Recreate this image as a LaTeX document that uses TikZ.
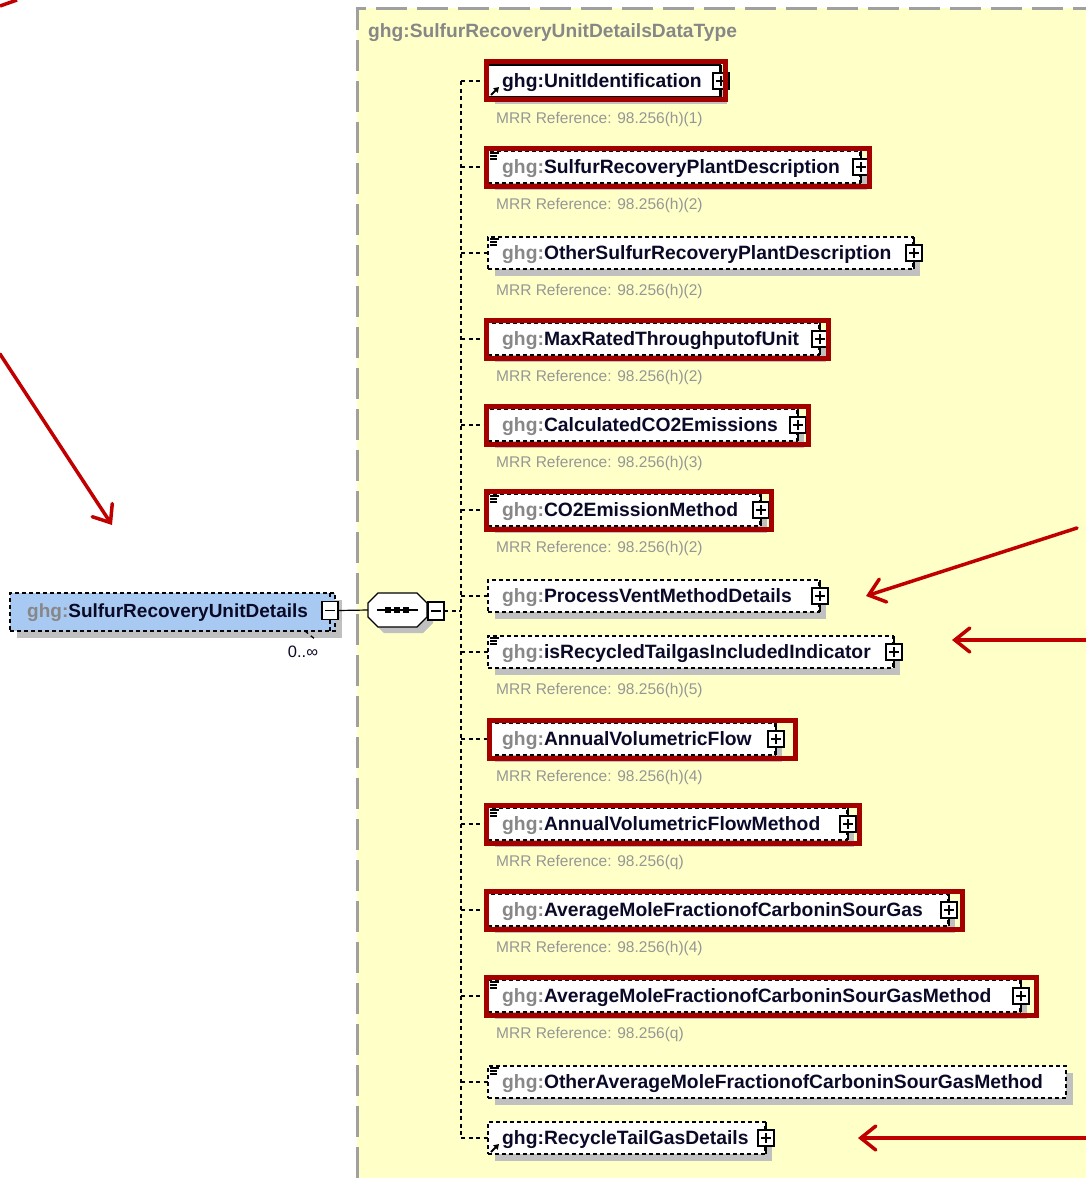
\documentclass[tikz,border=0pt]{standalone}
\usepackage{fontspec}
\setmainfont{Liberation Sans}
\usetikzlibrary{arrows.meta}

\definecolor{ybg}{RGB}{255,255,200}
\definecolor{ybordc}{RGB}{160,160,160}
\definecolor{shadowgray}{RGB}{192,192,192}
\definecolor{hlred}{RGB}{165,0,0}
\definecolor{arrred}{RGB}{192,0,0}
\definecolor{pfx}{RGB}{135,135,135}
\definecolor{mrrgray}{RGB}{150,150,150}
\definecolor{nm}{RGB}{10,10,40}
\definecolor{bluefill}{RGB}{168,202,242}

\tikzset{
  conn/.style={draw=black, line width=1.3pt, dash pattern=on 4pt off 3.5pt},
  optbox/.style={dash pattern=on 4pt off 3pt},
  elbox/.style={draw=black, fill=white, line width=1.3pt, inner sep=0pt, outer sep=0pt, minimum height=32pt},
  shade/.style={fill=shadowgray},
  nametext/.style={anchor=base west, inner sep=0pt, text=nm, font=\bfseries\fontsize{19.3}{19.3}\selectfont},
  mrrtext/.style={anchor=west, inner sep=0pt, text=mrrgray, font=\fontsize{15.5}{15.5}\selectfont},
  plusbox/.style={draw=black, fill=white, line width=1.2pt, minimum size=16pt, inner sep=0pt, outer sep=0pt,
    path picture={\draw[line width=1.2pt] ([xshift=-5pt]path picture bounding box.center) -- ([xshift=5pt]path picture bounding box.center)
      ([yshift=-5pt]path picture bounding box.center) -- ([yshift=5pt]path picture bounding box.center);}},
  minusbox/.style={draw=black, fill=white, line width=1.2pt, minimum width=16pt, minimum height=18pt, inner sep=0pt, outer sep=0pt,
    path picture={\draw[line width=1.2pt] ([xshift=-5pt]path picture bounding box.center) -- ([xshift=5pt]path picture bounding box.center);}},
  tick/.style={draw=black, line width=1.2pt},
  icon/.style={draw=black, line width=1.4pt},
  hl/.style={draw=hlred, line width=5pt},
  redarrow/.style={draw=arrred, line width=3.5pt, line cap=round, -{Straight Barb[length=15pt,width=24pt,line cap=round]}},
}

% one child element of the sequence: id, centre y, right edge, border style, label
\newcommand\xsdelem[5]{%
  \fill[shade] (495,#2-9) rectangle (#3+7,#2+23);
  \node[elbox,#4,minimum width={#3-488},anchor=west] (#1) at (488,#2) {};
  \node[nametext] (#1-l) at (502,#2+6) {#5};
  \coordinate (#1-s) at (461,#2);
  \draw[conn] (#1-s) -- (#1.west);
}
% expand button on the right edge
\newcommand\xsplus[1]{%
  \node[plusbox] (#1-p) at ([xshift=1pt]#1.east) {};
  \draw[tick] ([xshift=1pt]#1.north east) -- (#1-p.north) (#1-p.south) -- ([xshift=1pt]#1.south east);
}
% simple-content mark in the upper left corner
\newcommand\xsdoc[1]{%
  \draw[icon] ([shift={(2,2)}]#1.north west) -- ++(9,0)
              ([shift={(2,5)}]#1.north west) -- ++(7,0)
              ([shift={(2,8)}]#1.north west) -- ++(7,0);
}
% reference mark in the lower left corner
\newcommand\xsref[1]{%
  \draw[icon,line width=1.8pt,-{Triangle[length=5pt,width=6pt]}] ([shift={(3,-2)}]#1.south west) -- ++(8,-8);
}
% annotation below the element
\newcommand\xsmrr[2]{%
  \node[mrrtext] (#1-m) at ([shift={(8,38)}]#1.west) {MRR Reference: #2};
}
% red highlight frame: centre y, left, right
\newcommand\xshl[3]{%
  \draw[hl] (#2,#1-19) rectangle (#3,#1+19);
}
\newcommand\pf{\textcolor{pfx}{ghg:}}

\begin{document}
\begin{tikzpicture}[x=1pt,y=-1pt]
\useasboundingbox (0,0) rectangle (1086,1178);

% complex type area
\fill[ybg] (357,8) rectangle (1086,1178);
\draw[draw=ybordc, line width=3pt, dash pattern=on 31pt off 10pt] (357,1178) -- (357,8) -- (1086,8);
\node[anchor=base west, inner sep=0pt, text=pfx, font=\bfseries\fontsize{19.2}{19.2}\selectfont] (dtype) at (368,37) {ghg:SulfurRecoveryUnitDetailsDataType};

% sequence spine
\coordinate (sp-top) at (461,81);
\coordinate (sp-bot) at (461,1138);
\draw[conn] (sp-top) -- (sp-bot);

% parent element
\fill[shade] (17,600) rectangle (342,638);
\node[elbox, optbox, fill=bluefill, minimum width=325pt, minimum height=38pt, anchor=north west] (sru) at (10,593) {};
\node[nametext, font=\bfseries\fontsize{19}{19}\selectfont] (sru-l) at (27,617) {\pf SulfurRecoveryUnitDetails};
\node[minusbox] (sru-m) at (330,610.5) {};
\coordinate (sru-mt) at (330,593);
\coordinate (sru-mb) at (330,631);
\draw[conn] (sru-mt) -- (sru-m.north) (sru-m.south) -- (sru-mb);
\coordinate (occ-a) at (305,631);
\coordinate (occ-b) at (316,640);
\draw[conn] (occ-a) -- (occ-b);
\node[inner sep=0pt, text=nm, font=\fontsize{16.5}{16.5}\selectfont] (sru-occ) at (303,652) {0..∞};

% sequence compositor
\node[minimum width=59pt, minimum height=34pt, inner sep=0pt, outer sep=0pt] (seq) at (397.5,610) {};
\fill[shade, shift={(6,6)}] (368,603) -- (378,593) -- (417,593) -- (427,603) -- (427,617) -- (417,627) -- (378,627) -- (368,617) -- cycle;
\filldraw[fill=white, draw=black, line width=1.2pt] (368,603) -- (378,593) -- (417,593) -- (427,603) -- (427,617) -- (417,627) -- (378,627) -- (368,617) -- cycle;
\draw[line width=1.2pt] (377,610) -- (418,610);
\foreach \dx in {388,397,406} \fill (\dx-2.8,607.2) rectangle (\dx+2.8,612.8);
\node[minusbox] (seq-m) at (436,611) {};
\draw[line width=1.2pt] (sru-m.east) -- (seq.west);
\coordinate (sp-mid) at (461,611);
\draw[conn] (seq-m.east) -- (sp-mid);

% children
\xsdelem{e1}{81}{720}{solid}{ghg:UnitIdentification}
\xsplus{e1}\xsref{e1}\xsmrr{e1}{98.256(h)(1)}
\xshl{80.5}{486}{725}

\xsdelem{e2}{167}{860}{optbox}{\pf SulfurRecoveryPlantDescription}
\xsplus{e2}\xsdoc{e2}\xsmrr{e2}{98.256(h)(2)}
\xshl{167}{486}{869}

\xsdelem{e3}{253}{913}{optbox}{\pf OtherSulfurRecoveryPlantDescription}
\xsplus{e3}\xsdoc{e3}\xsmrr{e3}{98.256(h)(2)}

\xsdelem{e4}{339}{819}{optbox}{\pf MaxRatedThroughputofUnit}
\xsplus{e4}\xsmrr{e4}{98.256(h)(2)}
\xshl{339}{486}{828}

\xsdelem{e5}{425}{797}{optbox}{\pf CalculatedCO2Emissions}
\xsplus{e5}\xsmrr{e5}{98.256(h)(3)}
\xshl{425}{486}{808}

\xsdelem{e6}{510}{760}{optbox}{\pf CO2EmissionMethod}
\xsplus{e6}\xsdoc{e6}\xsmrr{e6}{98.256(h)(2)}
\xshl{510}{486}{771}

\xsdelem{e7}{596}{819}{optbox}{\pf ProcessVentMethodDetails}
\xsplus{e7}

\xsdelem{e8}{652}{893}{optbox}{\pf isRecycledTailgasIncludedIndicator}
\xsplus{e8}\xsdoc{e8}\xsmrr{e8}{98.256(h)(5)}

\xsdelem{e9}{739}{775}{optbox}{\pf AnnualVolumetricFlow}
\xsplus{e9}\xsmrr{e9}{98.256(h)(4)}
\xshl{739}{489}{795}

\xsdelem{e10}{824}{847}{optbox}{\pf AnnualVolumetricFlowMethod}
\xsplus{e10}\xsdoc{e10}\xsmrr{e10}{98.256(q)}
\xshl{824}{486}{859}

\xsdelem{e11}{910}{948}{optbox}{\pf AverageMoleFractionofCarboninSourGas}
\xsplus{e11}\xsmrr{e11}{98.256(h)(4)}
\xshl{910}{486}{962}

\xsdelem{e12}{996}{1020}{optbox}{\pf AverageMoleFractionofCarboninSourGasMethod}
\xsplus{e12}\xsdoc{e12}\xsmrr{e12}{98.256(q)}
\xshl{996}{486}{1036}

\xsdelem{e13}{1082}{1066}{optbox}{\pf OtherAverageMoleFractionofCarboninSourGasMethod}
\xsdoc{e13}

\xsdelem{e14}{1138}{765}{optbox}{ghg:RecycleTailGasDetails}
\xsplus{e14}\xsref{e14}

% callout arrows
\coordinate (a0s) at (0,6);
\coordinate (a0e) at (17,0);
\draw[draw=arrred, line width=3.5pt] (a0s) -- (a0e);
\coordinate (a1s) at (0,354);
\coordinate (a1e) at (112,525);
\draw[redarrow] (a1s) -- (a1e);
\coordinate (a2s) at (1077,528);
\coordinate (a2e) at (866,596);
\draw[redarrow] (a2s) -- (a2e);
\coordinate (a3s) at (1090,640);
\coordinate (a3e) at (952,640);
\draw[redarrow] (a3s) -- (a3e);
\coordinate (a4s) at (1090,1138);
\coordinate (a4e) at (858,1138);
\draw[redarrow] (a4s) -- (a4e);
\end{tikzpicture}
\end{document}
